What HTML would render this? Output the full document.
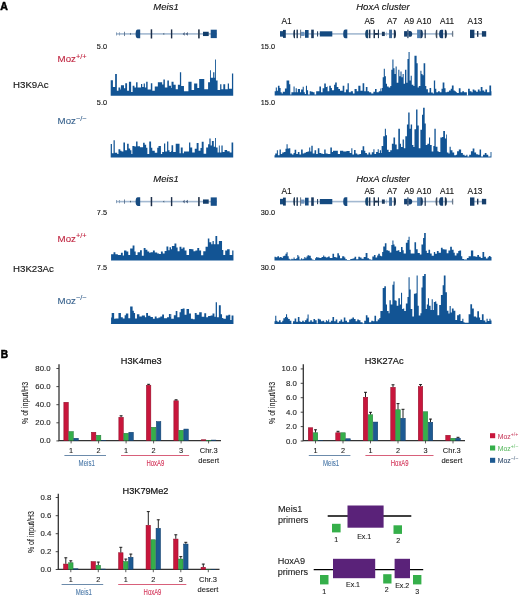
<!DOCTYPE html>
<html><head><meta charset="utf-8"><title>Figure</title>
<style>html,body{margin:0;padding:0;background:#fff;} svg{display:block;will-change:transform;filter:blur(0.3px);font-family:"Liberation Sans",sans-serif;}</style>
</head><body>
<svg width="520" height="597" viewBox="0 0 520 597" font-family="Liberation Sans, sans-serif"><rect width="520" height="597" fill="#fff"/><text x="0.3" y="9.7" font-size="10.5" text-anchor="start" fill="#000" stroke="#000" stroke-width="0.5" font-weight="bold" font-style="normal" >A</text><text x="166" y="10" font-size="9.5" text-anchor="middle" fill="#111" stroke="#111" stroke-width="0.12" font-weight="normal" font-style="italic" >Meis1</text><text x="383" y="10" font-size="9.5" text-anchor="middle" fill="#111" stroke="#111" stroke-width="0.12" font-weight="normal" font-style="italic" >HoxA cluster</text><rect x="116" y="33.10" width="100.8" height="1.6" fill="#a3b9d1"/><rect x="116.1" y="32.30" width="0.80" height="3.2" fill="#7d95b0"/><rect x="119.0" y="32.30" width="0.80" height="3.2" fill="#7d95b0"/><rect x="124.0" y="31.75" width="0.80" height="4.3" fill="#4d6684"/><path d="M129.8,33.90 L131.0,32.70 L131.0,35.10 Z" fill="#3d5670"/><path d="M140.2,29.55 H137.80 A2.20,4.35 0 0 0 137.80,38.25 H140.2 Z" fill="#174b80"/><rect x="150.7" y="29.30" width="1.50" height="9.2" fill="#1d2f4a"/><path d="M163.0,33.90 L164.2,32.70 L164.2,35.10 Z" fill="#3d5670"/><rect x="170.9" y="29.40" width="1.40" height="9.0" fill="#1d2f4a"/><path d="M182.7,33.90 L184.7,32.00 L184.7,35.80 Z" fill="#4a6080"/><path d="M185.6,33.90 L187.9,32.00 L187.9,35.80 Z" fill="#4a6080"/><rect x="198.0" y="29.40" width="1.80" height="9.0" fill="#3a4a5e"/><rect x="203.0" y="31.75" width="5.70" height="4.3" fill="#123e6c"/><rect x="210.7" y="29.70" width="6.10" height="8.4" fill="#17508a"/><rect x="280" y="33.10" width="116" height="1.6" fill="#a3b9d1"/><rect x="404" y="33.10" width="49.19999999999999" height="1.6" fill="#a3b9d1"/><rect x="470" y="33.10" width="16" height="1.6" fill="#a3b9d1"/><rect x="280" y="31.15" width="3.00" height="5.5" fill="#174b80"/><rect x="283" y="29.90" width="2.80" height="8" fill="#123f6e"/><path d="M295,29.65 H294.49 A1.19,4.25 0 0 0 294.49,38.15 H295 Z" fill="#1b3450"/><rect x="296.5" y="29.65" width="1.40" height="8.5" fill="#1b3450"/><rect x="300.2" y="29.65" width="0.90" height="8.5" fill="#4a5f78"/><rect x="301" y="31.85" width="3.50" height="4.1" fill="#6d93bd"/><rect x="305" y="30.00" width="3.60" height="7.8" fill="#174b80"/><rect x="311.2" y="29.65" width="2.60" height="8.5" fill="#1a3a60"/><rect x="317" y="31.30" width="1.10" height="5.2" fill="#2a4565"/><rect x="319.8" y="31.30" width="12.50" height="5.2" fill="#144a80"/><path d="M347.3,29.55 H345.40 A2.20,4.35 0 0 0 345.40,38.25 H347.3 Z" fill="#164a80"/><path d="M368.1,29.65 H367.23 A2.03,4.25 0 0 0 367.23,38.15 H368.1 Z" fill="#17466f"/><rect x="368.9" y="29.65" width="1.50" height="8.5" fill="#1e3450"/><rect x="373.5" y="29.65" width="1.50" height="8.5" fill="#1e3450"/><rect x="377.9" y="29.65" width="1.10" height="8.5" fill="#1e3450"/><rect x="375" y="33.00" width="2.90" height="1.8" fill="#1e3450"/><rect x="381.9" y="31.75" width="2.90" height="4.3" fill="#1b3a5e"/><rect x="386" y="31.75" width="0.50" height="4.3" fill="#8aa6c4"/><rect x="389.1" y="29.65" width="2.90" height="8.5" fill="#3f6a98"/><path d="M393.8,29.65 H394.46 A1.54,4.25 0 0 1 394.46,38.15 H393.8 Z" fill="#1b3450"/><rect x="404.1" y="31.15" width="3.20" height="5.5" fill="#164070"/><rect x="407.3" y="29.65" width="1.20" height="8.5" fill="#1a3a60"/><path d="M408.5,31.00 H410.00 A2.20,2.90 0 0 1 410.00,36.80 H408.5 Z" fill="#164070"/><rect x="417.1" y="29.65" width="3.20" height="8.5" fill="#4f7eb0"/><path d="M420.3,29.65 H421.08 A1.82,4.25 0 0 1 421.08,38.15 H420.3 Z" fill="#163a63"/><rect x="424.6" y="29.65" width="1.20" height="8.5" fill="#1e3450"/><path d="M437.3,29.65 H436.79 A1.19,4.25 0 0 0 436.79,38.15 H437.3 Z" fill="#3c4a5c"/><path d="M443.1,29.65 H441.30 A2.20,4.25 0 0 0 441.30,38.15 H443.1 Z" fill="#164070"/><path d="M444.8,29.65 H445.43 A1.47,4.25 0 0 1 445.43,38.15 H444.8 Z" fill="#1b3450"/><path d="M453.2,30.70 H452.78 A0.98,3.20 0 0 0 452.78,37.10 H453.2 Z" fill="#6a7888"/><rect x="470" y="29.75" width="4.40" height="8.3" fill="#163f6c"/><rect x="477" y="31.00" width="1.40" height="5.8" fill="#1e3450"/><rect x="481.9" y="31.15" width="4.30" height="5.5" fill="#163f6c"/><text x="286.5" y="23.8" font-size="8.3" text-anchor="middle" fill="#111" stroke="#111" stroke-width="0.12" font-weight="normal" font-style="normal" >A1</text><text x="369.5" y="23.8" font-size="8.3" text-anchor="middle" fill="#111" stroke="#111" stroke-width="0.12" font-weight="normal" font-style="normal" >A5</text><text x="392" y="23.8" font-size="8.3" text-anchor="middle" fill="#111" stroke="#111" stroke-width="0.12" font-weight="normal" font-style="normal" >A7</text><text x="409" y="23.8" font-size="8.3" text-anchor="middle" fill="#111" stroke="#111" stroke-width="0.12" font-weight="normal" font-style="normal" >A9</text><text x="424" y="23.8" font-size="8.3" text-anchor="middle" fill="#111" stroke="#111" stroke-width="0.12" font-weight="normal" font-style="normal" >A10</text><text x="447" y="23.8" font-size="8.3" text-anchor="middle" fill="#111" stroke="#111" stroke-width="0.12" font-weight="normal" font-style="normal" >A11</text><text x="475" y="23.8" font-size="8.3" text-anchor="middle" fill="#111" stroke="#111" stroke-width="0.12" font-weight="normal" font-style="normal" >A13</text><text x="166" y="182" font-size="9.5" text-anchor="middle" fill="#111" stroke="#111" stroke-width="0.12" font-weight="normal" font-style="italic" >Meis1</text><text x="383" y="182" font-size="9.5" text-anchor="middle" fill="#111" stroke="#111" stroke-width="0.12" font-weight="normal" font-style="italic" >HoxA cluster</text><rect x="116" y="200.80" width="100.8" height="1.6" fill="#a3b9d1"/><rect x="116.1" y="200.00" width="0.80" height="3.2" fill="#7d95b0"/><rect x="119.0" y="200.00" width="0.80" height="3.2" fill="#7d95b0"/><rect x="124.0" y="199.45" width="0.80" height="4.3" fill="#4d6684"/><path d="M129.8,201.60 L131.0,200.40 L131.0,202.80 Z" fill="#3d5670"/><path d="M140.2,197.25 H137.80 A2.20,4.35 0 0 0 137.80,205.95 H140.2 Z" fill="#174b80"/><rect x="150.7" y="197.00" width="1.50" height="9.2" fill="#1d2f4a"/><path d="M163.0,201.60 L164.2,200.40 L164.2,202.80 Z" fill="#3d5670"/><rect x="170.9" y="197.10" width="1.40" height="9.0" fill="#1d2f4a"/><path d="M182.7,201.60 L184.7,199.70 L184.7,203.50 Z" fill="#4a6080"/><path d="M185.6,201.60 L187.9,199.70 L187.9,203.50 Z" fill="#4a6080"/><rect x="198.0" y="197.10" width="1.80" height="9.0" fill="#3a4a5e"/><rect x="203.0" y="199.45" width="5.70" height="4.3" fill="#123e6c"/><rect x="210.7" y="197.40" width="6.10" height="8.4" fill="#17508a"/><rect x="280" y="200.80" width="116" height="1.6" fill="#a3b9d1"/><rect x="404" y="200.80" width="49.19999999999999" height="1.6" fill="#a3b9d1"/><rect x="470" y="200.80" width="16" height="1.6" fill="#a3b9d1"/><rect x="280" y="198.85" width="3.00" height="5.5" fill="#174b80"/><rect x="283" y="197.60" width="2.80" height="8" fill="#123f6e"/><path d="M295,197.35 H294.49 A1.19,4.25 0 0 0 294.49,205.85 H295 Z" fill="#1b3450"/><rect x="296.5" y="197.35" width="1.40" height="8.5" fill="#1b3450"/><rect x="300.2" y="197.35" width="0.90" height="8.5" fill="#4a5f78"/><rect x="301" y="199.55" width="3.50" height="4.1" fill="#6d93bd"/><rect x="305" y="197.70" width="3.60" height="7.8" fill="#174b80"/><rect x="311.2" y="197.35" width="2.60" height="8.5" fill="#1a3a60"/><rect x="317" y="199.00" width="1.10" height="5.2" fill="#2a4565"/><rect x="319.8" y="199.00" width="12.50" height="5.2" fill="#144a80"/><path d="M347.3,197.25 H345.40 A2.20,4.35 0 0 0 345.40,205.95 H347.3 Z" fill="#164a80"/><path d="M368.1,197.35 H367.23 A2.03,4.25 0 0 0 367.23,205.85 H368.1 Z" fill="#17466f"/><rect x="368.9" y="197.35" width="1.50" height="8.5" fill="#1e3450"/><rect x="373.5" y="197.35" width="1.50" height="8.5" fill="#1e3450"/><rect x="377.9" y="197.35" width="1.10" height="8.5" fill="#1e3450"/><rect x="375" y="200.70" width="2.90" height="1.8" fill="#1e3450"/><rect x="381.9" y="199.45" width="2.90" height="4.3" fill="#1b3a5e"/><rect x="386" y="199.45" width="0.50" height="4.3" fill="#8aa6c4"/><rect x="389.1" y="197.35" width="2.90" height="8.5" fill="#3f6a98"/><path d="M393.8,197.35 H394.46 A1.54,4.25 0 0 1 394.46,205.85 H393.8 Z" fill="#1b3450"/><rect x="404.1" y="198.85" width="3.20" height="5.5" fill="#164070"/><rect x="407.3" y="197.35" width="1.20" height="8.5" fill="#1a3a60"/><path d="M408.5,198.70 H410.00 A2.20,2.90 0 0 1 410.00,204.50 H408.5 Z" fill="#164070"/><rect x="417.1" y="197.35" width="3.20" height="8.5" fill="#4f7eb0"/><path d="M420.3,197.35 H421.08 A1.82,4.25 0 0 1 421.08,205.85 H420.3 Z" fill="#163a63"/><rect x="424.6" y="197.35" width="1.20" height="8.5" fill="#1e3450"/><path d="M437.3,197.35 H436.79 A1.19,4.25 0 0 0 436.79,205.85 H437.3 Z" fill="#3c4a5c"/><path d="M443.1,197.35 H441.30 A2.20,4.25 0 0 0 441.30,205.85 H443.1 Z" fill="#164070"/><path d="M444.8,197.35 H445.43 A1.47,4.25 0 0 1 445.43,205.85 H444.8 Z" fill="#1b3450"/><path d="M453.2,198.40 H452.78 A0.98,3.20 0 0 0 452.78,204.80 H453.2 Z" fill="#6a7888"/><rect x="470" y="197.45" width="4.40" height="8.3" fill="#163f6c"/><rect x="477" y="198.70" width="1.40" height="5.8" fill="#1e3450"/><rect x="481.9" y="198.85" width="4.30" height="5.5" fill="#163f6c"/><text x="286.5" y="193.8" font-size="8.3" text-anchor="middle" fill="#111" stroke="#111" stroke-width="0.12" font-weight="normal" font-style="normal" >A1</text><text x="369.5" y="193.8" font-size="8.3" text-anchor="middle" fill="#111" stroke="#111" stroke-width="0.12" font-weight="normal" font-style="normal" >A5</text><text x="392" y="193.8" font-size="8.3" text-anchor="middle" fill="#111" stroke="#111" stroke-width="0.12" font-weight="normal" font-style="normal" >A7</text><text x="409" y="193.8" font-size="8.3" text-anchor="middle" fill="#111" stroke="#111" stroke-width="0.12" font-weight="normal" font-style="normal" >A9</text><text x="424" y="193.8" font-size="8.3" text-anchor="middle" fill="#111" stroke="#111" stroke-width="0.12" font-weight="normal" font-style="normal" >A10</text><text x="447" y="193.8" font-size="8.3" text-anchor="middle" fill="#111" stroke="#111" stroke-width="0.12" font-weight="normal" font-style="normal" >A11</text><text x="475" y="193.8" font-size="8.3" text-anchor="middle" fill="#111" stroke="#111" stroke-width="0.12" font-weight="normal" font-style="normal" >A13</text><text x="107" y="48.8" font-size="7.3" text-anchor="end" fill="#111" stroke="#111" stroke-width="0.12" font-weight="normal" font-style="normal" >5.0</text><text x="275" y="48.8" font-size="7.3" text-anchor="end" fill="#111" stroke="#111" stroke-width="0.12" font-weight="normal" font-style="normal" >15.0</text><text x="107" y="104.7" font-size="7.3" text-anchor="end" fill="#111" stroke="#111" stroke-width="0.12" font-weight="normal" font-style="normal" >5.0</text><text x="275" y="104.7" font-size="7.3" text-anchor="end" fill="#111" stroke="#111" stroke-width="0.12" font-weight="normal" font-style="normal" >15.0</text><text x="107" y="214.8" font-size="7.3" text-anchor="end" fill="#111" stroke="#111" stroke-width="0.12" font-weight="normal" font-style="normal" >7.5</text><text x="275" y="214.8" font-size="7.3" text-anchor="end" fill="#111" stroke="#111" stroke-width="0.12" font-weight="normal" font-style="normal" >30.0</text><text x="107" y="269.5" font-size="7.3" text-anchor="end" fill="#111" stroke="#111" stroke-width="0.12" font-weight="normal" font-style="normal" >7.5</text><text x="275" y="269.5" font-size="7.3" text-anchor="end" fill="#111" stroke="#111" stroke-width="0.12" font-weight="normal" font-style="normal" >30.0</text><text x="57.6" y="62.4" font-size="9.7" fill="#c0243f" stroke="#c0243f" stroke-width="0.1">Moz<tspan font-size="7.4" dy="-3.3">+/+</tspan></text><text x="57.6" y="123.9" font-size="9.7" fill="#36608c" stroke="#36608c" stroke-width="0.1">Moz<tspan font-size="7.4" dy="-3.3">−/−</tspan></text><text x="57.6" y="241.6" font-size="9.7" fill="#c0243f" stroke="#c0243f" stroke-width="0.1">Moz<tspan font-size="7.4" dy="-3.3">+/+</tspan></text><text x="57.6" y="303.6" font-size="9.7" fill="#36608c" stroke="#36608c" stroke-width="0.1">Moz<tspan font-size="7.4" dy="-3.3">−/−</tspan></text><text x="13" y="88" font-size="9.7" text-anchor="start" fill="#111" stroke="#111" stroke-width="0.12" font-weight="normal" font-style="normal" >H3K9Ac</text><text x="13" y="272" font-size="9.7" text-anchor="start" fill="#111" stroke="#111" stroke-width="0.12" font-weight="normal" font-style="normal" >H3K23Ac</text><path d="M110.7,95.7V80.23H112.92V87.0H115.14V74.08H116.86V90.69H118.46V87.62H120.31V89.46H120.92V85.15H124.0V88.23H125.23V83.31H127.08V90.69H128.92V81.83H131.14V91.92H132.62V85.77H134.46V87.62H136.06V82.32H137.54V87.62H140.98V83.92H142.22V87.0H143.69V83.55H144.92V87.62H146.15V81.83H147.63V89.46H150.83V83.31H152.31V90.69H154.77V86.38H157.85V82.32H162.15V84.54H163.38V79.62H164.86V87.62H167.32V80.6H168.92V85.77H171V88.0H171.52V81.65H173.55V84.83H175.71V89.27H177.87V84.83H179.9V72.13H181.17V86.1H183.96V91.17H188.4V81.65H191.58V89.9H194.11V83.56H197.29V88.0H199.19V79.11H204.27V89.27H208.08V82.29H209.98V70.23H210.87V77.85H213.15V72.13H214.42V77.85H215.06V59.44H215.94V80.38H217.59V89.9H220.13V84.19H221.4V89.27H223.31V84.19H225.21V89.27H227.75V83.56H229.02V88.63H231.94V73.4H233.21V95.7Z" fill="#125494"/><path d="M110.7,157.6V144.08H111.94V153.31H113.54V140.14H114.77V152.69H117.23V153.92H118.46V149.25H120.31V150.85H121.54V151.46H123.38V142.6H124.98V150.23H127.08V143.83H128.68V148.38H130.15V150.23H131.38V153.92H132.37V145.92H134.46V146.54H136.06V141.62H137.54V146.29H140.0V147.15H143.08V142.85H144.68V144.69H146.15V147.77H147.38V153.92H149.23V141.62H151.08V147.77H152.31V150.85H154.77V152.69H157.23V147.77H158.46V145.92H160.92V153.92H162.15V152.08H164.0V143.46H165.23V151.46H167.08V141.62H168.31V150.23H169.54V152.08H171V151.27H171.52V145.18H173.17V151.9H175.71V143.65H179.52V153.17H180.79V147.46H182.69V153.17H183.96V151.52H189.04V142.38H190.31V147.46H192.21V152.54H194.75V148.73H196.65V143.02H198.56V150.63H200.46V148.1H201.73V141.75H203.63V153.81H206.17V147.46H208.08V144.29H209.35V138.58H210.61V145.56H211.88V141.11H213.79V146.83H215.06V137.94H215.94V147.46H217.59V152.54H218.86V145.56H219.75V152.54H221.4V145.56H222.67V151.9H224.58V150.0H227.11V151.27H229.65V152.54H231.56V142.38H233.21V157.6Z" fill="#125494"/><path d="M110.9,260.5V260.2H111.08V254.25H113.54V252.15H115.38V254.25H117.85V254.98H120.92V252.77H122.77V255.48H124.0V250.55H126.46V251.54H128.31V254.98H130.15V248.46H132.62V245.38H134.46V251.54H135.69V254.98H137.54V252.15H140.0V250.31H141.85V255.85H143.69V248.09H145.54V249.69H147.38V251.54H149.23V252.77H150.46V252.15H152.92V250.55H154.77V252.52H157.23V253.38H159.08V254.0H160.92V251.54H162.77V253.38H164.62V250.92H166.46V246.62H168.31V250.31H169.54V247.23H171V249.29H171.9V246.11H174.44V243.58H176.35V247.38H177.62V251.19H179.52V246.75H181.42V248.65H182.69V247.38H184.6V250.56H186.5V255.0H189.04V248.91H191.58V249.29H193.48V251.19H195.38V250.56H197.29V248.02H199.19V250.56H201.1V255.25H203.25V251.19H205.54V246.75H207.82V238.5H209.35V242.31H211.25V244.21H212.52V241.04H213.79V244.21H215.44V235.96H217.21V244.21H218.86V241.04H222.04V249.92H223.31V255.0H225.21V250.56H227.11V249.29H229.65V255.0H232.19V250.56H233.46V260.5Z" fill="#125494"/><path d="M110.9,323.9V323.6H111.08V317.62H111.69V313.06H114.15V318.85H115.38V318.48H118.46V313.06H120.92V317.25H122.77V318.48H124.62V315.15H125.85V313.55H128.31V318.23H130.15V306.54H132.62V310.85H133.85V313.06H135.08V318.48H136.92V314.29H139.38V316.38H141.85V315.52H144.92V317.25H146.15V313.06H148.0V315.77H150.46V317.0H152.92V318.85H154.77V316.38H156.62V318.23H158.46V317.62H160.31V316.38H162.15V314.54H164.0V318.23H167.08V317.25H168.92V313.92H170.77V317.0H171V313.94H171.27V318.63H173.81V315.21H175.71V311.02H177.36V317.36H179.52V312.29H180.79V309.11H182.69V308.48H184.6V314.83H186.5V309.11H189.04V313.56H190.94V318.63H192.85V319.27H194.75V312.92H196.65V314.83H199.19V312.29H201.73V316.73H204.27V313.18H206.17V317.36H208.08V316.1H210.61V315.46H212.52V313.56H214.42V316.73H215.69V302.13H216.96V317.36H218.86V305.31H220.77V314.19H222.04V318.0H223.31V318.63H225.84V315.46H228.38V314.83H230.29V319.9H231.56V315.46H233.46V323.9Z" fill="#125494"/><path d="M274.5,95.5V95.5H274.69V91.23H275.77V87.46H276.85V90.69H277.92V85.85H279.54V88.0H280.62V92.31H281.69V93.38H282.77V91.77H284.92V88.54H286.54V80.46H289.23V84.23H290.31V94.46H291.38V92.31H293.54V86.38H294.61V92.31H295.69V88.21H296.77V92.31H297.85V89.08H300.0V92.31H301.08V89.61H302.69V86.71H303.77V92.31H304.85V93.92H305.92V85.85H307.0V90.15H308.08V94.46H309.69V91.23H311.31V91.77H312.92V92.31H314.54V94.46H316.15V91.23H319.38V86.38H321.0V92.31H322.61V88.21H324.23V83.48H325.84V86.92H327V86.38H327.62V91.23H329.23V85.85H330.85V88.0H331.92V90.15H334.08V84.77H335.15V82.61H336.77V86.92H338.38V89.08H340.0V90.69H342.69V85.85H344.31V92.31H345.92V89.61H347.54V83.15H348.83V92.31H350.77V91.23H352.92V93.38H354.54V89.08H356.69V91.23H358.31V85.85H360.46V90.69H362.61V83.15H364.23V91.23H365.84V86.92H367.46V91.23H369.08V92.31H371.23V93.38H373.38V91.77H375.0V89.08H376.61V92.31H378.77V91.23H380.38V88.54H381V91.31H381.62V88.08H382.69V77.31H383.77V68.69H384.85V76.23H385.92V83.77H387.0V86.46H388.62V87.54H390.23V85.92H391.31V69.77H392.38V59.54H393.46V68.15H394.54V74.08H395.61V66.54H396.69V82.69H398.31V69.77H399.38V76.23H400.46V71.38H401.54V77.31H402.61V74.08H403.69V83.77H404.98V69.77H406.38V82.69H407.46V59.0H408.54V52.0H409.61V80.54H410.69V75.69H411.77V84.84H413.38V85.92H414.46V55.77H416.61V63.31H417.69V87.54H418.77V85.92H420.38V70.85H421.46V74.08H422.54V75.15H423.61V63.31H425.23V85.92H426.31V89.15H427.92V92.38H429.54V88.08H431.15V92.38H432.77V93.46H433.84V80.54H435V80.19H435.15V88.84H436.31V92.31H438.04V91.15H439.77V92.31H441.5V88.84H442.65V82.5H444.38V88.27H445.54V92.31H447.27V91.73H449.0V90.58H450.73V88.84H451.88V85.38H453.61V90.58H454.77V91.15H455.92V92.31H457.08V92.88H458.81V88.27H460.54V92.31H462.27V91.15H464.0V92.31H466.88V95.2H468.04V88.84H469.77V91.15H471.5V92.31H472.65V89.42H474.38V90.58H476.11V91.73H477.84V89.42H479.58V91.15H480.73V87.11H482.46V90.58H484.19V91.73H485.34V89.42H487.07V92.31H489.38V85.38H491.11V91.15H491.46V95.5Z" fill="#125494"/><path d="M274.5,157.5V155.15H275.23V153.54H276.85V150.31H277.92V155.15H279.54V149.55H280.83V154.08H282.23V152.46H283.85V151.92H285.46V148.69H286.54V144.17H287.61V148.48H289.01V148.15H290.31V153.54H291.92V154.61H293.54V153.0H294.61V149.77H296.23V154.08H297.85V151.92H299.46V154.61H301.08V149.55H302.69V153.54H304.31V152.78H305.92V151.92H307.54V151.38H309.15V147.61H310.23V151.38H311.31V145.68H312.71V153.54H314.54V150.31H316.15V154.08H317.77V148.15H319.38V153.0H321.0V153.54H322.61V154.08H324.23V149.55H325.63V153.54H327V153.54H327.62V154.08H330.31V147.4H331.92V151.92H333.0V150.85H334.08V150.85H337.85V154.08H340.0V150.85H343.23V151.38H346.46V151.06H349.69V153.0H351.31V148.15H352.38V154.61H354.0V149.98H355.61V153.54H357.23V154.61H359.38V154.08H361.0V150.31H362.61V146.32H364.23V150.85H365.31V153.0H366.92V154.61H368.54V152.46H370.15V154.61H371.77V152.14H373.38V149.23H374.46V154.08H376.08V151.92H377.69V149.23H378.77V153.0H379.84V150.31H381V153.0H381.62V146.0H383.23V136.31H384.85V128.77H385.92V135.23H387.0V149.77H388.62V151.92H390.23V150.31H391.85V143.84H393.46V137.38H395.08V144.38H396.69V149.23H398.31V128.77H399.92V143.84H401.0V147.08H402.61V139.54H403.91V148.15H405.31V136.31H406.92V124.46H408.21V112.62H409.61V128.77H410.69V124.46H412.09V144.92H413.38V147.08H414.46V129.31H416.08V109.38H417.48V125.54H418.77V148.15H420.38V129.85H422.0V114.77H423.08V107.77H424.69V123.38H425.77V144.92H427.38V143.84H429.0V137.38H430.08V144.92H431.69V151.38H433.31V146.0H434.38V128.77H435V128.81H435.73V146.69H437.46V151.31H438.62V151.88H440.35V137.46H442.08V136.88H443.23V131.11H444.96V138.61H446.11V134.58H446.92V152.46H448.42V153.61H449.58V146.69H450.73V150.15H452.46V152.46H454.19V155.34H455.92V154.77H457.08V151.31H458.81V149.58H461.11V153.04H462.85V154.77H464.58V155.69H466.31V154.77H467.46V156.5H469.19V154.77H470.92V151.31H472.65V148.42H474.38V152.46H476.11V154.19H477.84V154.77H479.58V149.58H481.08V156.5H483.04V154.77H484.77V153.04H486.5V154.77H488.23V156.5H490.54V151.88H491.46V157.5Z" fill="#125494"/><path d="M274.5,260.4V256.86H275.77V257.29H277.38V256.21H279.0V257.61H280.08V257.08H281.69V257.94H282.77V256.21H283.85V255.78H285.46V253.85H286.54V252.23H287.61V256.21H288.69V258.69H289.77V259.45H291.38V258.69H292.46V259.23H293.54V257.61H294.61V259.01H296.23V258.15H297.31V254.92H298.38V256.54H299.46V259.45H301.08V258.37H302.15V259.23H303.23V258.69H304.31V257.08H305.38V258.15H306.46V256.54H307.54V255.14H309.15V255.78H310.77V258.15H311.84V259.45H313.46V260.1H315.08V258.15H316.15V257.08H317.23V257.61H319.38V257.94H321.54V257.08H323.15V255.46H324.23V256.86H325.84V257.61H327V257.29H328.15V256.54H329.77V257.94H332.46V253.85H334.08V257.08H335.69V257.61H337.31V253.31H338.92V255.46H340.0V258.15H342.15V256.21H344.31V257.61H345.38V259.23H347.0V260.1H348.08V260.09H350.23V259.01H351.85V258.69H353.46V258.15H354.54V256.86H356.15V259.23H358.31V256.86H359.92V257.61H361.54V258.69H363.69V257.08H365.63V252.98H367.46V258.15H369.08V259.23H370.69V259.77H372.31V256.54H373.92V254.92H375.54V257.61H377.15V255.46H378.23V253.63H379.84V255.78H381V256.23H382.15V251.92H383.23V246.54H384.85V243.31H386.46V250.31H388.08V250.85H389.69V252.46H391.31V244.92H392.38V240.61H393.46V244.38H394.54V246.54H396.15V250.85H397.77V250.31H399.38V251.92H401.0V247.08H402.61V250.31H403.69V253.54H405.85V242.77H407.46V240.08H408.54V236.85H409.61V249.77H410.69V253.54H412.31V253.54H414.46V242.23H416.08V249.23H417.69V253.0H419.84V254.61H421.46V244.38H423.08V237.92H424.15V233.08H425.77V250.85H426.84V253.0H428.46V249.77H430.08V253.54H431.69V255.69H433.84V251.92H435V252.11H435.15V253.85H436.88V250.96H438.62V252.69H440.92V247.85H442.65V249.23H444.38V249.46H446.69V253.27H448.42V250.38H450.15V246.69H451.88V249.81H453.61V252.69H454.77V255.58H456.5V253.27H458.23V250.96H459.38V250.38H461.11V256.15H462.27V259.04H464.0V259.61H466.88V257.88H468.61V256.15H470.92V250.38H473.23V256.15H475.54V256.73H477.27V255.0H479.0V256.73H480.73V257.88H482.46V252.11H484.19V256.73H485.92V258.46H487.65V257.31H488.81V255.92H490.54V257.08H491.5V260.4Z" fill="#125494"/><path d="M274.5,324.0V321.23H275.23V315.85H276.31V320.69H277.38V321.77H279.0V320.15H280.62V322.31H282.23V320.69H283.31V318.21H284.92V316.92H286.0V314.23H287.08V317.46H288.15V319.08H289.77V320.69H291.38V323.7H293.0V321.23H294.61V318.54H296.23V321.77H297.85V316.92H299.46V321.23H300.54V322.09H302.15V320.69H303.77V322.09H304.85V320.37H306.46V318.54H307.54V314.55H308.61V321.77H310.23V320.15H311.84V321.77H313.46V319.08H315.08V320.15H316.69V323.38H317.77V318.86H319.38V319.61H321.0V321.23H322.61V320.69H324.23V322.31H325.84V320.15H327V321.23H328.15V319.61H329.23V322.31H330.85V320.69H332.46V316.92H334.08V321.23H335.69V319.61H337.31V322.85H338.92V321.23H340.54V319.61H342.15V321.77H343.77V317.46H345.38V320.69H347.0V322.31H349.15V319.61H350.77V318.86H352.38V317.46H354.0V319.08H355.61V321.23H357.23V319.61H358.85V320.15H360.46V322.31H362.61V323.38H364.23V320.69H365.84V315.31H367.46V317.46H369.08V322.31H371.23V320.69H372.84V321.23H374.46V315.63H376.08V321.23H377.69V319.61H379.31V318.0H380.38V311.0H381V311.08H381.08V311.08H382.69V287.92H384.31V286.31H385.92V304.61H387.0V311.08H388.62V313.23H389.48V300.31H390.77V304.61H392.38V284.69H393.46V281.46H394.54V300.31H395.61V300.85H396.69V305.69H398.31V298.15H399.92V304.61H401.0V292.77H402.08V308.92H403.15V308.38H404.23V311.08H405.85V303.54H407.46V297.08H408.54V277.15H409.61V289.54H410.69V308.92H412.31V316.46H413.92V293.85H415.54V293.31H416.61V275.54H417.69V305.69H418.77V315.38H420.38V313.23H421.46V287.38H422.54V276.08H424.15V273.92H425.77V308.92H426.84V304.61H427.92V298.15H429.0V305.69H430.61V310.0H431.69V299.23H432.77V310.0H433.84V301.92H435V301.46H436.31V303.77H437.46V315.31H439.19V304.92H440.92V295.11H442.65V285.31H443.81V275.5H445.54V292.23H446.92V310.69H448.42V313.58H449.58V306.08H450.73V312.42H451.88V308.38H453.61V310.69H455.35V319.92H457.08V315.31H458.81V314.15H460.54V321.07H462.27V318.77H463.42V322.23H464.58V322.81H468.61V314.15H470.34V304.34H472.08V308.38H473.81V316.46H476.11V317.61H477.27V311.27H479.0V317.61H480.15V319.92H481.88V314.15H483.61V320.5H485.34V322.23H486.5V318.77H487.65V321.07H489.38V318.77H490.54V320.5H491.5V324.0Z" fill="#125494"/><text x="0.8" y="357.6" font-size="10.2" text-anchor="start" fill="#000" stroke="#000" stroke-width="0.5" font-weight="bold" font-style="normal" >B</text><line x1="59.0" y1="364.3" x2="59.0" y2="440.6" stroke="#333" stroke-width="1.3"/><line x1="58.4" y1="440.6" x2="221" y2="440.6" stroke="#333" stroke-width="1.3"/><line x1="56.4" y1="368.5" x2="59.0" y2="368.5" stroke="#333" stroke-width="0.9"/><text transform="translate(50.6,371.0) scale(1.12,1)" font-size="7.0" text-anchor="end" fill="#222" stroke="#222" stroke-width="0.1">80.0</text><line x1="56.4" y1="386.6" x2="59.0" y2="386.6" stroke="#333" stroke-width="0.9"/><text transform="translate(50.6,389.1) scale(1.12,1)" font-size="7.0" text-anchor="end" fill="#222" stroke="#222" stroke-width="0.1">60.0</text><line x1="56.4" y1="404.7" x2="59.0" y2="404.7" stroke="#333" stroke-width="0.9"/><text transform="translate(50.6,407.2) scale(1.12,1)" font-size="7.0" text-anchor="end" fill="#222" stroke="#222" stroke-width="0.1">40.0</text><line x1="56.4" y1="422.8" x2="59.0" y2="422.8" stroke="#333" stroke-width="0.9"/><text transform="translate(50.6,425.3) scale(1.12,1)" font-size="7.0" text-anchor="end" fill="#222" stroke="#222" stroke-width="0.1">20.0</text><line x1="56.4" y1="440.9" x2="59.0" y2="440.9" stroke="#333" stroke-width="0.9"/><text transform="translate(50.6,443.4) scale(1.12,1)" font-size="7.0" text-anchor="end" fill="#222" stroke="#222" stroke-width="0.1">0.0</text><text transform="translate(141.2,364.3) scale(1.0,1)" font-size="9.2" text-anchor="middle" fill="#111" stroke="#111" stroke-width="0.2">H3K4me3</text><text transform="translate(27.9,402.95000000000005) rotate(-90)" font-size="8.4" text-anchor="middle" fill="#222" stroke="#222" stroke-width="0.1" textLength="42" lengthAdjust="spacingAndGlyphs">% of input/H3</text><rect x="63.85" y="402.25" width="4.5" height="38.35000000000002" fill="#c8163c" stroke="#8e0c26" stroke-width="0.5"/><rect x="68.85" y="431.55" width="4.5" height="9.050000000000011" fill="#35af4a" stroke="#23793a" stroke-width="0.5"/><rect x="73.85" y="438.25" width="4.5" height="2.3500000000000227" fill="#1d5a92" stroke="#0f3a66" stroke-width="0.5"/><line x1="71.1" y1="440.6" x2="71.1" y2="443.40000000000003" stroke="#333" stroke-width="0.8"/><rect x="91.35" y="432.25" width="4.5" height="8.350000000000023" fill="#c8163c" stroke="#8e0c26" stroke-width="0.5"/><rect x="96.35" y="435.25" width="4.5" height="5.350000000000023" fill="#35af4a" stroke="#23793a" stroke-width="0.5"/><rect x="101.35" y="440.25" width="4.5" height="0.35000000000002274" fill="#1d5a92" stroke="#0f3a66" stroke-width="0.5"/><line x1="98.6" y1="440.6" x2="98.6" y2="443.40000000000003" stroke="#333" stroke-width="0.8"/><rect x="118.85" y="417.25" width="4.5" height="23.350000000000023" fill="#c8163c" stroke="#8e0c26" stroke-width="0.5"/><line x1="121.1" y1="415.5" x2="121.1" y2="417" stroke="#222" stroke-width="1.0"/><line x1="119.6" y1="415.8" x2="122.6" y2="415.8" stroke="#222" stroke-width="1.0"/><rect x="123.85" y="433.25" width="4.5" height="7.350000000000023" fill="#35af4a" stroke="#23793a" stroke-width="0.5"/><rect x="128.85" y="432.25" width="4.5" height="8.350000000000023" fill="#1d5a92" stroke="#0f3a66" stroke-width="0.5"/><line x1="126.1" y1="440.6" x2="126.1" y2="443.40000000000003" stroke="#333" stroke-width="0.8"/><rect x="146.35" y="385.25" width="4.5" height="55.35000000000002" fill="#c8163c" stroke="#8e0c26" stroke-width="0.5"/><line x1="148.6" y1="384" x2="148.6" y2="385" stroke="#222" stroke-width="1.0"/><line x1="147.1" y1="384.3" x2="150.1" y2="384.3" stroke="#222" stroke-width="1.0"/><rect x="151.35" y="427.25" width="4.5" height="13.350000000000023" fill="#35af4a" stroke="#23793a" stroke-width="0.5"/><rect x="156.35" y="421.55" width="4.5" height="19.05000000000001" fill="#1d5a92" stroke="#0f3a66" stroke-width="0.5"/><line x1="153.6" y1="440.6" x2="153.6" y2="443.40000000000003" stroke="#333" stroke-width="0.8"/><rect x="173.85" y="400.75" width="4.5" height="39.85000000000002" fill="#c8163c" stroke="#8e0c26" stroke-width="0.5"/><line x1="176.1" y1="399.5" x2="176.1" y2="400.5" stroke="#222" stroke-width="1.0"/><line x1="174.6" y1="399.8" x2="177.6" y2="399.8" stroke="#222" stroke-width="1.0"/><rect x="178.85" y="430.25" width="4.5" height="10.350000000000023" fill="#35af4a" stroke="#23793a" stroke-width="0.5"/><rect x="183.85" y="429.05" width="4.5" height="11.550000000000011" fill="#1d5a92" stroke="#0f3a66" stroke-width="0.5"/><line x1="181.1" y1="440.6" x2="181.1" y2="443.40000000000003" stroke="#333" stroke-width="0.8"/><rect x="201.35" y="439.75" width="4.5" height="0.8500000000000227" fill="#c8163c" stroke="#8e0c26" stroke-width="0.5"/><rect x="206.35" y="440.55" width="4.5" height="0.3" fill="#35af4a" stroke="#23793a" stroke-width="0.5"/><rect x="211.35" y="440.05" width="4.5" height="0.5500000000000114" fill="#1d5a92" stroke="#0f3a66" stroke-width="0.5"/><line x1="208.6" y1="440.6" x2="208.6" y2="443.40000000000003" stroke="#333" stroke-width="0.8"/><text transform="translate(71.1,452.5) scale(1.0,1)" font-size="7.3" text-anchor="middle" fill="#222" stroke="#222" stroke-width="0.1">1</text><text transform="translate(98.6,452.5) scale(1.0,1)" font-size="7.3" text-anchor="middle" fill="#222" stroke="#222" stroke-width="0.1">2</text><text transform="translate(126.1,452.5) scale(1.0,1)" font-size="7.3" text-anchor="middle" fill="#222" stroke="#222" stroke-width="0.1">1</text><text transform="translate(153.6,452.5) scale(1.0,1)" font-size="7.3" text-anchor="middle" fill="#222" stroke="#222" stroke-width="0.1">2</text><text transform="translate(181.1,452.5) scale(1.0,1)" font-size="7.3" text-anchor="middle" fill="#222" stroke="#222" stroke-width="0.1">3</text><text transform="translate(208.7,452.5) scale(1.0,1)" font-size="7.5" text-anchor="middle" fill="#222" stroke="#222" stroke-width="0.1">Chr.3</text><text transform="translate(208.7,462.7) scale(1.0,1)" font-size="7.5" text-anchor="middle" fill="#222" stroke="#222" stroke-width="0.1">desert</text><line x1="64.4" y1="455.5" x2="106.0" y2="455.5" stroke="#6c8bab" stroke-width="1.1"/><line x1="121.0" y1="455.5" x2="189.1" y2="455.5" stroke="#d8607a" stroke-width="1.1"/><text x="86.7" y="465.6" font-size="8.6" text-anchor="middle" fill="#4a78a8" stroke="#4a78a8" stroke-width="0.1" textLength="16.2" lengthAdjust="spacingAndGlyphs">Meis1</text><text x="155.3" y="465.6" font-size="8.6" text-anchor="middle" fill="#d22f55" stroke="#d22f55" stroke-width="0.1" textLength="17.8" lengthAdjust="spacingAndGlyphs">HoxA9</text><line x1="303.3" y1="364.3" x2="303.3" y2="440.6" stroke="#333" stroke-width="1.3"/><line x1="302.7" y1="440.6" x2="465" y2="440.6" stroke="#333" stroke-width="1.3"/><line x1="300.7" y1="368.9" x2="303.3" y2="368.9" stroke="#333" stroke-width="0.9"/><text transform="translate(296.8,371.4) scale(1.12,1)" font-size="7.0" text-anchor="end" fill="#222" stroke="#222" stroke-width="0.1">10.0</text><line x1="300.7" y1="383.3" x2="303.3" y2="383.3" stroke="#333" stroke-width="0.9"/><text transform="translate(296.8,385.8) scale(1.12,1)" font-size="7.0" text-anchor="end" fill="#222" stroke="#222" stroke-width="0.1">8.0</text><line x1="300.7" y1="397.7" x2="303.3" y2="397.7" stroke="#333" stroke-width="0.9"/><text transform="translate(296.8,400.2) scale(1.12,1)" font-size="7.0" text-anchor="end" fill="#222" stroke="#222" stroke-width="0.1">6.0</text><line x1="300.7" y1="412.2" x2="303.3" y2="412.2" stroke="#333" stroke-width="0.9"/><text transform="translate(296.8,414.7) scale(1.12,1)" font-size="7.0" text-anchor="end" fill="#222" stroke="#222" stroke-width="0.1">4.0</text><line x1="300.7" y1="426.6" x2="303.3" y2="426.6" stroke="#333" stroke-width="0.9"/><text transform="translate(296.8,429.1) scale(1.12,1)" font-size="7.0" text-anchor="end" fill="#222" stroke="#222" stroke-width="0.1">2.0</text><line x1="300.7" y1="441.0" x2="303.3" y2="441.0" stroke="#333" stroke-width="0.9"/><text transform="translate(296.8,443.5) scale(1.12,1)" font-size="7.0" text-anchor="end" fill="#222" stroke="#222" stroke-width="0.1">0.0</text><text transform="translate(384.1,364.3) scale(1.0,1)" font-size="9.2" text-anchor="middle" fill="#111" stroke="#111" stroke-width="0.2">H3K27Ac</text><text transform="translate(275.4,402.95000000000005) rotate(-90)" font-size="8.4" text-anchor="middle" fill="#222" stroke="#222" stroke-width="0.1" textLength="42" lengthAdjust="spacingAndGlyphs">% of input/H3</text><rect x="308.25" y="427.75" width="4.5" height="12.850000000000023" fill="#c8163c" stroke="#8e0c26" stroke-width="0.5"/><rect x="313.25" y="432.75" width="4.5" height="7.850000000000023" fill="#35af4a" stroke="#23793a" stroke-width="0.5"/><line x1="315.5" y1="429.5" x2="315.5" y2="432.5" stroke="#222" stroke-width="1.0"/><line x1="314.0" y1="429.8" x2="317.0" y2="429.8" stroke="#222" stroke-width="1.0"/><rect x="318.25" y="440.25" width="4.5" height="0.35000000000002274" fill="#1d5a92" stroke="#0f3a66" stroke-width="0.5"/><line x1="315.5" y1="440.6" x2="315.5" y2="443.40000000000003" stroke="#333" stroke-width="0.8"/><rect x="335.75" y="432.75" width="4.5" height="7.850000000000023" fill="#c8163c" stroke="#8e0c26" stroke-width="0.5"/><line x1="338.0" y1="431" x2="338.0" y2="432.5" stroke="#222" stroke-width="1.0"/><line x1="336.5" y1="431.3" x2="339.5" y2="431.3" stroke="#222" stroke-width="1.0"/><rect x="340.75" y="432.75" width="4.5" height="7.850000000000023" fill="#35af4a" stroke="#23793a" stroke-width="0.5"/><rect x="345.75" y="438.75" width="4.5" height="1.8500000000000227" fill="#1d5a92" stroke="#0f3a66" stroke-width="0.5"/><line x1="343.0" y1="440.6" x2="343.0" y2="443.40000000000003" stroke="#333" stroke-width="0.8"/><rect x="363.25" y="397.25" width="4.5" height="43.35000000000002" fill="#c8163c" stroke="#8e0c26" stroke-width="0.5"/><line x1="365.5" y1="392" x2="365.5" y2="397" stroke="#222" stroke-width="1.0"/><line x1="364.0" y1="392.3" x2="367.0" y2="392.3" stroke="#222" stroke-width="1.0"/><rect x="368.25" y="414.75" width="4.5" height="25.850000000000023" fill="#35af4a" stroke="#23793a" stroke-width="0.5"/><line x1="370.5" y1="412" x2="370.5" y2="414.5" stroke="#222" stroke-width="1.0"/><line x1="369.0" y1="412.3" x2="372.0" y2="412.3" stroke="#222" stroke-width="1.0"/><rect x="373.25" y="422.05" width="4.5" height="18.55000000000001" fill="#1d5a92" stroke="#0f3a66" stroke-width="0.5"/><line x1="370.5" y1="440.6" x2="370.5" y2="443.40000000000003" stroke="#333" stroke-width="0.8"/><rect x="390.75" y="387.25" width="4.5" height="53.35000000000002" fill="#c8163c" stroke="#8e0c26" stroke-width="0.5"/><line x1="393.0" y1="384.5" x2="393.0" y2="387" stroke="#222" stroke-width="1.0"/><line x1="391.5" y1="384.8" x2="394.5" y2="384.8" stroke="#222" stroke-width="1.0"/><rect x="395.75" y="409.75" width="4.5" height="30.850000000000023" fill="#35af4a" stroke="#23793a" stroke-width="0.5"/><line x1="398.0" y1="403.3" x2="398.0" y2="409.5" stroke="#222" stroke-width="1.0"/><line x1="396.5" y1="403.6" x2="399.5" y2="403.6" stroke="#222" stroke-width="1.0"/><rect x="400.75" y="418.25" width="4.5" height="22.350000000000023" fill="#1d5a92" stroke="#0f3a66" stroke-width="0.5"/><line x1="403.0" y1="409" x2="403.0" y2="418" stroke="#222" stroke-width="1.0"/><line x1="401.5" y1="409.3" x2="404.5" y2="409.3" stroke="#222" stroke-width="1.0"/><line x1="398.0" y1="440.6" x2="398.0" y2="443.40000000000003" stroke="#333" stroke-width="0.8"/><rect x="418.25" y="386.55" width="4.5" height="54.05000000000001" fill="#c8163c" stroke="#8e0c26" stroke-width="0.5"/><line x1="420.5" y1="384.3" x2="420.5" y2="386.3" stroke="#222" stroke-width="1.0"/><line x1="419.0" y1="384.6" x2="422.0" y2="384.6" stroke="#222" stroke-width="1.0"/><rect x="423.25" y="411.75" width="4.5" height="28.850000000000023" fill="#35af4a" stroke="#23793a" stroke-width="0.5"/><rect x="428.25" y="422.25" width="4.5" height="18.350000000000023" fill="#1d5a92" stroke="#0f3a66" stroke-width="0.5"/><line x1="430.5" y1="418.8" x2="430.5" y2="422" stroke="#222" stroke-width="1.0"/><line x1="429.0" y1="419.1" x2="432.0" y2="419.1" stroke="#222" stroke-width="1.0"/><line x1="425.5" y1="440.6" x2="425.5" y2="443.40000000000003" stroke="#333" stroke-width="0.8"/><rect x="445.75" y="435.25" width="4.5" height="5.350000000000023" fill="#c8163c" stroke="#8e0c26" stroke-width="0.5"/><rect x="450.75" y="438.25" width="4.5" height="2.3500000000000227" fill="#35af4a" stroke="#23793a" stroke-width="0.5"/><rect x="455.75" y="438.25" width="4.5" height="2.3500000000000227" fill="#1d5a92" stroke="#0f3a66" stroke-width="0.5"/><line x1="458.0" y1="437" x2="458.0" y2="438" stroke="#222" stroke-width="1.0"/><line x1="456.5" y1="437.3" x2="459.5" y2="437.3" stroke="#222" stroke-width="1.0"/><line x1="453.0" y1="440.6" x2="453.0" y2="443.40000000000003" stroke="#333" stroke-width="0.8"/><text transform="translate(315.5,452.5) scale(1.0,1)" font-size="7.3" text-anchor="middle" fill="#222" stroke="#222" stroke-width="0.1">1</text><text transform="translate(343.0,452.5) scale(1.0,1)" font-size="7.3" text-anchor="middle" fill="#222" stroke="#222" stroke-width="0.1">2</text><text transform="translate(370.5,452.5) scale(1.0,1)" font-size="7.3" text-anchor="middle" fill="#222" stroke="#222" stroke-width="0.1">1</text><text transform="translate(398.0,452.5) scale(1.0,1)" font-size="7.3" text-anchor="middle" fill="#222" stroke="#222" stroke-width="0.1">2</text><text transform="translate(425.5,452.5) scale(1.0,1)" font-size="7.3" text-anchor="middle" fill="#222" stroke="#222" stroke-width="0.1">3</text><text transform="translate(451.8,452.5) scale(1.0,1)" font-size="7.5" text-anchor="middle" fill="#222" stroke="#222" stroke-width="0.1">Chr.3</text><text transform="translate(451.8,462.7) scale(1.0,1)" font-size="7.5" text-anchor="middle" fill="#222" stroke="#222" stroke-width="0.1">desert</text><line x1="308.8" y1="455.5" x2="350.4" y2="455.5" stroke="#6c8bab" stroke-width="1.1"/><line x1="365.4" y1="455.5" x2="433.5" y2="455.5" stroke="#d8607a" stroke-width="1.1"/><text x="331.1" y="465.6" font-size="8.6" text-anchor="middle" fill="#4a78a8" stroke="#4a78a8" stroke-width="0.1" textLength="16.2" lengthAdjust="spacingAndGlyphs">Meis1</text><text x="399.7" y="465.6" font-size="8.6" text-anchor="middle" fill="#d22f55" stroke="#d22f55" stroke-width="0.1" textLength="17.8" lengthAdjust="spacingAndGlyphs">HoxA9</text><line x1="58.3" y1="493.8" x2="58.3" y2="569.4" stroke="#333" stroke-width="1.3"/><line x1="57.699999999999996" y1="569.4" x2="219.5" y2="569.4" stroke="#333" stroke-width="1.3"/><line x1="55.699999999999996" y1="497.5" x2="58.3" y2="497.5" stroke="#333" stroke-width="0.9"/><text transform="translate(51.3,500.0) scale(1.12,1)" font-size="7.0" text-anchor="end" fill="#222" stroke="#222" stroke-width="0.1">0.8</text><line x1="55.699999999999996" y1="515.7" x2="58.3" y2="515.7" stroke="#333" stroke-width="0.9"/><text transform="translate(51.3,518.2) scale(1.12,1)" font-size="7.0" text-anchor="end" fill="#222" stroke="#222" stroke-width="0.1">0.6</text><line x1="55.699999999999996" y1="533.7" x2="58.3" y2="533.7" stroke="#333" stroke-width="0.9"/><text transform="translate(51.3,536.2) scale(1.12,1)" font-size="7.0" text-anchor="end" fill="#222" stroke="#222" stroke-width="0.1">0.4</text><line x1="55.699999999999996" y1="551.7" x2="58.3" y2="551.7" stroke="#333" stroke-width="0.9"/><text transform="translate(51.3,554.2) scale(1.12,1)" font-size="7.0" text-anchor="end" fill="#222" stroke="#222" stroke-width="0.1">0.2</text><line x1="55.699999999999996" y1="569.5" x2="58.3" y2="569.5" stroke="#333" stroke-width="0.9"/><text transform="translate(51.3,572.0) scale(1.12,1)" font-size="7.0" text-anchor="end" fill="#222" stroke="#222" stroke-width="0.1">0.0</text><text transform="translate(145.5,493.8) scale(1.0,1)" font-size="9.2" text-anchor="middle" fill="#111" stroke="#111" stroke-width="0.2">H3K79Me2</text><text transform="translate(34.0,532.1) rotate(-90)" font-size="8.4" text-anchor="middle" fill="#222" stroke="#222" stroke-width="0.1" textLength="42" lengthAdjust="spacingAndGlyphs">% of input/H3</text><rect x="63.55" y="564.05" width="4.5" height="5.350000000000023" fill="#c8163c" stroke="#8e0c26" stroke-width="0.5"/><line x1="65.8" y1="557.5" x2="65.8" y2="563.8" stroke="#222" stroke-width="1.0"/><line x1="64.3" y1="557.8" x2="67.3" y2="557.8" stroke="#222" stroke-width="1.0"/><rect x="68.55" y="562.75" width="4.5" height="6.649999999999977" fill="#35af4a" stroke="#23793a" stroke-width="0.5"/><line x1="70.8" y1="560.5" x2="70.8" y2="562.5" stroke="#222" stroke-width="1.0"/><line x1="69.3" y1="560.8" x2="72.3" y2="560.8" stroke="#222" stroke-width="1.0"/><rect x="73.55" y="568.75" width="4.5" height="0.6499999999999773" fill="#1d5a92" stroke="#0f3a66" stroke-width="0.5"/><line x1="70.8" y1="569.4" x2="70.8" y2="572.1999999999999" stroke="#333" stroke-width="0.8"/><rect x="91.05" y="561.55" width="4.5" height="7.850000000000023" fill="#c8163c" stroke="#8e0c26" stroke-width="0.5"/><rect x="96.05" y="565.25" width="4.5" height="4.149999999999977" fill="#35af4a" stroke="#23793a" stroke-width="0.5"/><line x1="98.3" y1="561.8" x2="98.3" y2="565" stroke="#222" stroke-width="1.0"/><line x1="96.8" y1="562.0999999999999" x2="99.8" y2="562.0999999999999" stroke="#222" stroke-width="1.0"/><rect x="101.05" y="569.05" width="4.5" height="0.35000000000002274" fill="#1d5a92" stroke="#0f3a66" stroke-width="0.5"/><line x1="98.3" y1="569.4" x2="98.3" y2="572.1999999999999" stroke="#333" stroke-width="0.8"/><rect x="118.55" y="552.75" width="4.5" height="16.649999999999977" fill="#c8163c" stroke="#8e0c26" stroke-width="0.5"/><line x1="120.8" y1="547" x2="120.8" y2="552.5" stroke="#222" stroke-width="1.0"/><line x1="119.3" y1="547.3" x2="122.3" y2="547.3" stroke="#222" stroke-width="1.0"/><rect x="123.55" y="561.55" width="4.5" height="7.850000000000023" fill="#35af4a" stroke="#23793a" stroke-width="0.5"/><line x1="125.8" y1="558.8" x2="125.8" y2="561.3" stroke="#222" stroke-width="1.0"/><line x1="124.3" y1="559.0999999999999" x2="127.3" y2="559.0999999999999" stroke="#222" stroke-width="1.0"/><rect x="128.55" y="557.25" width="4.5" height="12.149999999999977" fill="#1d5a92" stroke="#0f3a66" stroke-width="0.5"/><line x1="130.8" y1="553.8" x2="130.8" y2="557" stroke="#222" stroke-width="1.0"/><line x1="129.3" y1="554.0999999999999" x2="132.3" y2="554.0999999999999" stroke="#222" stroke-width="1.0"/><line x1="125.8" y1="569.4" x2="125.8" y2="572.1999999999999" stroke="#333" stroke-width="0.8"/><rect x="146.05" y="525.25" width="4.5" height="44.14999999999998" fill="#c8163c" stroke="#8e0c26" stroke-width="0.5"/><line x1="148.3" y1="511.3" x2="148.3" y2="525" stroke="#222" stroke-width="1.0"/><line x1="146.8" y1="511.6" x2="149.8" y2="511.6" stroke="#222" stroke-width="1.0"/><rect x="151.05" y="539.75" width="4.5" height="29.649999999999977" fill="#35af4a" stroke="#23793a" stroke-width="0.5"/><rect x="156.05" y="528.25" width="4.5" height="41.14999999999998" fill="#1d5a92" stroke="#0f3a66" stroke-width="0.5"/><line x1="158.3" y1="519.5" x2="158.3" y2="528" stroke="#222" stroke-width="1.0"/><line x1="156.8" y1="519.8" x2="159.8" y2="519.8" stroke="#222" stroke-width="1.0"/><line x1="153.3" y1="569.4" x2="153.3" y2="572.1999999999999" stroke="#333" stroke-width="0.8"/><rect x="173.55" y="539.05" width="4.5" height="30.350000000000023" fill="#c8163c" stroke="#8e0c26" stroke-width="0.5"/><line x1="175.8" y1="534.5" x2="175.8" y2="538.8" stroke="#222" stroke-width="1.0"/><line x1="174.3" y1="534.8" x2="177.3" y2="534.8" stroke="#222" stroke-width="1.0"/><rect x="178.55" y="559.05" width="4.5" height="10.350000000000023" fill="#35af4a" stroke="#23793a" stroke-width="0.5"/><line x1="180.8" y1="556.3" x2="180.8" y2="558.8" stroke="#222" stroke-width="1.0"/><line x1="179.3" y1="556.5999999999999" x2="182.3" y2="556.5999999999999" stroke="#222" stroke-width="1.0"/><rect x="183.55" y="544.05" width="4.5" height="25.350000000000023" fill="#1d5a92" stroke="#0f3a66" stroke-width="0.5"/><line x1="185.8" y1="542" x2="185.8" y2="543.8" stroke="#222" stroke-width="1.0"/><line x1="184.3" y1="542.3" x2="187.3" y2="542.3" stroke="#222" stroke-width="1.0"/><line x1="180.8" y1="569.4" x2="180.8" y2="572.1999999999999" stroke="#333" stroke-width="0.8"/><rect x="201.05" y="567.25" width="4.5" height="2.1499999999999773" fill="#c8163c" stroke="#8e0c26" stroke-width="0.5"/><line x1="203.3" y1="563.8" x2="203.3" y2="567" stroke="#222" stroke-width="1.0"/><line x1="201.8" y1="564.0999999999999" x2="204.8" y2="564.0999999999999" stroke="#222" stroke-width="1.0"/><rect x="206.05" y="569.25" width="4.5" height="0.3" fill="#35af4a" stroke="#23793a" stroke-width="0.5"/><rect x="211.05" y="569.25" width="4.5" height="0.3" fill="#1d5a92" stroke="#0f3a66" stroke-width="0.5"/><line x1="208.3" y1="569.4" x2="208.3" y2="572.1999999999999" stroke="#333" stroke-width="0.8"/><text transform="translate(70.8,581.7) scale(1.0,1)" font-size="7.3" text-anchor="middle" fill="#222" stroke="#222" stroke-width="0.1">1</text><text transform="translate(98.3,581.7) scale(1.0,1)" font-size="7.3" text-anchor="middle" fill="#222" stroke="#222" stroke-width="0.1">2</text><text transform="translate(125.8,581.7) scale(1.0,1)" font-size="7.3" text-anchor="middle" fill="#222" stroke="#222" stroke-width="0.1">1</text><text transform="translate(153.3,581.7) scale(1.0,1)" font-size="7.3" text-anchor="middle" fill="#222" stroke="#222" stroke-width="0.1">2</text><text transform="translate(180.8,581.7) scale(1.0,1)" font-size="7.3" text-anchor="middle" fill="#222" stroke="#222" stroke-width="0.1">3</text><text transform="translate(208,581.7) scale(1.0,1)" font-size="7.5" text-anchor="middle" fill="#222" stroke="#222" stroke-width="0.1">Chr.3</text><text transform="translate(208,591.9000000000001) scale(1.0,1)" font-size="7.5" text-anchor="middle" fill="#222" stroke="#222" stroke-width="0.1">desert</text><line x1="61.599999999999994" y1="584.5" x2="103.19999999999999" y2="584.5" stroke="#6c8bab" stroke-width="1.1"/><line x1="118.19999999999999" y1="584.5" x2="186.3" y2="584.5" stroke="#d8607a" stroke-width="1.1"/><text x="83.9" y="594.6" font-size="8.6" text-anchor="middle" fill="#4a78a8" stroke="#4a78a8" stroke-width="0.1" textLength="16.2" lengthAdjust="spacingAndGlyphs">Meis1</text><text x="152.5" y="594.6" font-size="8.6" text-anchor="middle" fill="#d22f55" stroke="#d22f55" stroke-width="0.1" textLength="17.8" lengthAdjust="spacingAndGlyphs">HoxA9</text><rect x="490" y="433.2" width="5.2" height="5" fill="#c8163c"/><text x="497.8" y="438.59999999999997" font-size="7.6" fill="#c94060" stroke="#c94060" stroke-width="0.08" textLength="13" lengthAdjust="spacingAndGlyphs">Moz</text><text x="510.8" y="435.5" font-size="5.2" fill="#c94060">+/+</text><rect x="490" y="445.5" width="5.2" height="5" fill="#35af4a"/><text x="497.8" y="450.9" font-size="7.6" fill="#5dbb63" stroke="#5dbb63" stroke-width="0.08" textLength="13" lengthAdjust="spacingAndGlyphs">Moz</text><text x="510.8" y="447.8" font-size="5.2" fill="#5dbb63">+/−</text><rect x="490" y="457.8" width="5.2" height="5" fill="#1d5a92"/><text x="497.8" y="463.2" font-size="7.6" fill="#2e4a6b" stroke="#2e4a6b" stroke-width="0.08" textLength="13" lengthAdjust="spacingAndGlyphs">Moz</text><text x="510.8" y="460.1" font-size="5.2" fill="#2e4a6b">−/−</text><text x="278" y="512.4" font-size="9.1" text-anchor="start" fill="#222" stroke="#222" stroke-width="0.12" font-weight="normal" font-style="normal" >Meis1</text><text x="278" y="522.8" font-size="9.1" text-anchor="start" fill="#222" stroke="#222" stroke-width="0.12" font-weight="normal" font-style="normal" >primers</text><line x1="327.7" y1="516" x2="411.3" y2="516" stroke="#000" stroke-width="1.4"/><rect x="347.5" y="505.5" width="36.1" height="22.2" fill="#5a2279"/><rect x="332" y="523.8" width="8.6" height="8.6" fill="#35af4a"/><rect x="393.5" y="525.3" width="8.5" height="8.6" fill="#35af4a"/><text x="336.2" y="541.7" font-size="7" text-anchor="middle" fill="#222" stroke="#222" stroke-width="0.12" font-weight="normal" font-style="normal" >1</text><text x="364.2" y="538.8" font-size="7" text-anchor="middle" fill="#222" stroke="#222" stroke-width="0.12" font-weight="normal" font-style="normal" >Ex.1</text><text x="398.2" y="542.6" font-size="7" text-anchor="middle" fill="#222" stroke="#222" stroke-width="0.12" font-weight="normal" font-style="normal" >2</text><text x="277.7" y="563.5" font-size="9.1" text-anchor="start" fill="#222" stroke="#222" stroke-width="0.12" font-weight="normal" font-style="normal" >HoxA9</text><text x="277.7" y="574.8" font-size="9.1" text-anchor="start" fill="#222" stroke="#222" stroke-width="0.12" font-weight="normal" font-style="normal" >primers</text><line x1="313.7" y1="569.6" x2="423.2" y2="569.6" stroke="#000" stroke-width="1.4"/><rect x="333" y="558.8" width="42.2" height="19.4" fill="#5a2279"/><rect x="394.6" y="558.8" width="15.4" height="19.4" fill="#5a2279"/><rect x="320" y="575" width="8.5" height="9.4" fill="#35af4a"/><rect x="383.2" y="574.2" width="8.3" height="9.3" fill="#35af4a"/><rect x="413" y="575" width="8.4" height="9.4" fill="#35af4a"/><text x="324.2" y="593.6" font-size="7" text-anchor="middle" fill="#222" stroke="#222" stroke-width="0.12" font-weight="normal" font-style="normal" >1</text><text x="353" y="586.5" font-size="7" text-anchor="middle" fill="#222" stroke="#222" stroke-width="0.12" font-weight="normal" font-style="normal" >Ex.1</text><text x="386.7" y="591.8" font-size="7" text-anchor="middle" fill="#222" stroke="#222" stroke-width="0.12" font-weight="normal" font-style="normal" >2</text><text x="402.2" y="588" font-size="7" text-anchor="middle" fill="#222" stroke="#222" stroke-width="0.12" font-weight="normal" font-style="normal" >Ex.2</text><text x="417.2" y="593.6" font-size="7" text-anchor="middle" fill="#222" stroke="#222" stroke-width="0.12" font-weight="normal" font-style="normal" >3</text></svg>
</body></html>
